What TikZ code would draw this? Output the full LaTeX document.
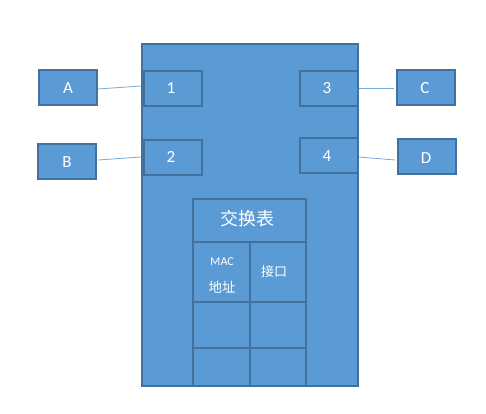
\documentclass[tikz,border=0pt]{standalone}
\usepackage{fontspec}
\setmainfont{Carlito}
\newfontfamily\cjk{Noto Sans CJK SC}
\definecolor{boxfill}{HTML}{5B9BD5}
\definecolor{boxline}{HTML}{41719C}
\begin{document}
\begin{tikzpicture}[x=1pt,y=-1pt,
  blk/.style={draw=boxline,fill=boxfill,line width=2pt},
  box/.style={blk,anchor=north west,inner sep=0pt,minimum width=58pt,minimum height=34.6pt},
  lbl/.style={text=white,font=\fontsize{17}{19}\selectfont,inner sep=0pt},
  wire/.style={draw=boxfill!85!white,line width=0.8pt}]
\useasboundingbox (0,0) rectangle (486,413);
% main switch
\draw[blk] (142,44) rectangle (358,386);
% ports
\node[box] (p1) at (143,70) {};
\node[box] (p2) at (143,139) {};
\node[box] (p3) at (299,70) {};
\node[box] (p4) at (299,137) {};
\node[lbl] at (171,88) {1};
\node[lbl] at (171,157) {2};
\node[lbl] at (327,88) {3};
\node[lbl] at (327,156) {4};
% hosts
\node[box,minimum height=35pt] (A) at (38,69) {};
\node[box,minimum height=35pt] (B) at (37,143) {};
\node[box,minimum height=35pt] (C) at (396,69) {};
\node[box,minimum height=35pt] (D) at (397,138) {};
\node[lbl] at (68,88) {A};
\node[lbl] at (67,162) {B};
\node[lbl] at (425,88) {C};
\node[lbl] at (426,158) {D};
% connectors
\coordinate (a1) at (98,89);
\coordinate (a2) at (141,86);
\coordinate (b1) at (98,160);
\coordinate (b2) at (141,157);
\coordinate (c1) at (359,88);
\coordinate (c2) at (394,88);
\coordinate (d1) at (359,157);
\coordinate (d2) at (395,160);
\draw[wire] (a1) -- (a2);
\draw[wire] (b1) -- (b2);
\draw[wire] (c1) -- (c2);
\draw[wire] (d1) -- (d2);
% table
\draw[blk] (193,199) rectangle (306,386);
\draw[boxline,line width=2pt] (193,242) -- (306,242);
\draw[boxline,line width=2pt] (193,302) -- (306,302);
\draw[boxline,line width=2pt] (193,348) -- (306,348);
\draw[boxline,line width=2pt] (250,242) -- (250,386);
\draw[boxline,line width=2pt] (142,386) -- (358,386);
\node[lbl,font=\cjk\fontsize{18}{20}\selectfont] (title) at (247,219) {交换表};
\node[lbl,font=\fontsize{12}{14}\selectfont] (mac) at (222,262) {MAC};
\node[lbl,font=\cjk\fontsize{13.5}{15}\selectfont] (addr) at (222,287) {地址};
\node[lbl,font=\cjk\fontsize{13}{15}\selectfont] (port) at (274,272) {接口};
\end{tikzpicture}
\end{document}
